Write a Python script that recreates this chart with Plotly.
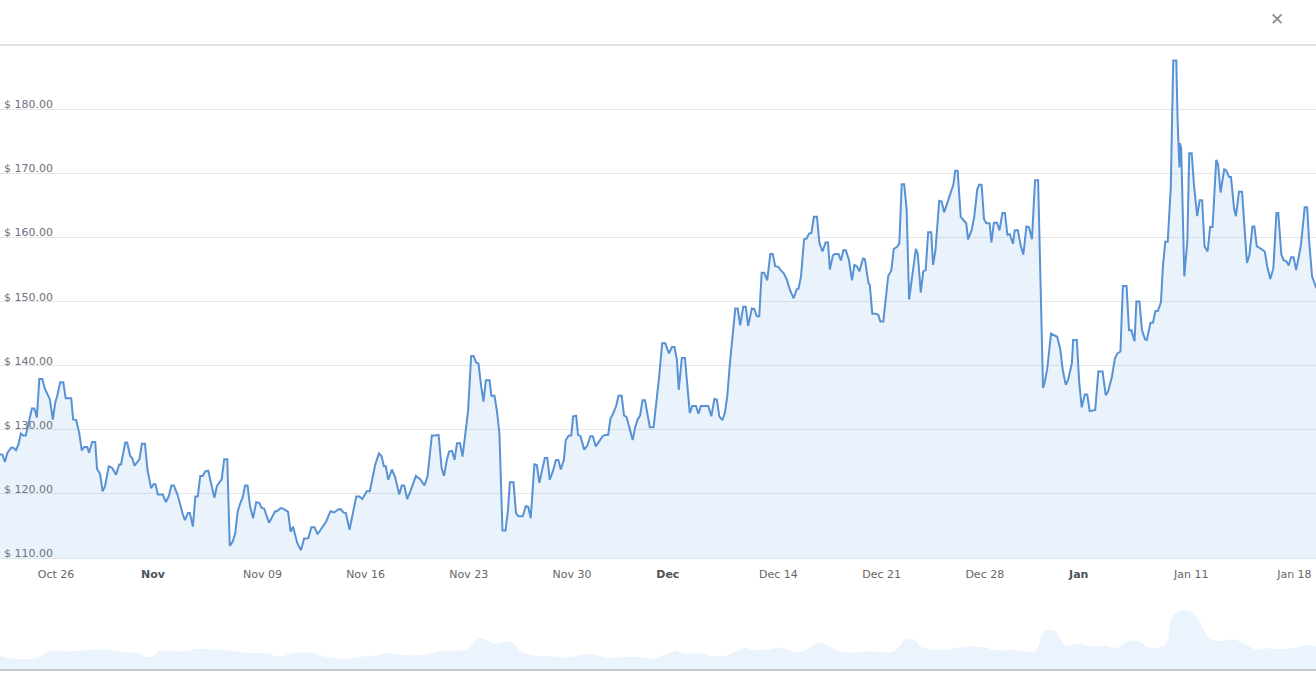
import pandas as pd
import plotly.graph_objects as go

# ---------------- data ----------------
start_time = pd.Timestamp("2020-10-22 04:48")
end_time = pd.Timestamp("2021-01-19 11:12")

# hours since start_time
price_hours = [
    0, 4, 8, 12, 18, 22, 26, 30, 34, 38,
    42, 48, 52, 56, 60, 64, 69, 73, 81, 86,
    90, 93, 98, 103, 107, 116, 119, 124, 129, 133,
    137, 142, 145, 150, 155, 158, 163, 167, 171, 177,
    182, 189, 194, 197, 204, 207, 212, 215, 219, 227,
    231, 236, 240, 246, 250, 253, 257, 265, 270, 275,
    279, 283, 289, 297, 301, 306, 309, 314, 318, 322,
    326, 330, 334, 339, 343, 349, 353, 361, 365, 370,
    374, 379, 383, 387, 391, 395, 399, 403, 407, 412,
    417, 422, 426, 430, 438, 448, 451, 457, 461, 466,
    469, 473, 477, 484, 490, 495, 502, 507, 512, 517,
    524, 531, 538, 544, 551, 555, 559, 563, 569, 573,
    580, 585, 590, 597, 602, 611, 617, 621, 625, 628,
    632, 638, 643, 650, 654, 658, 663, 670, 677, 684,
    691, 696, 703, 708, 714, 719, 723, 727, 731, 736,
    740, 744, 749, 753, 758, 762, 767, 771, 775, 779,
    783, 787, 791, 797, 800, 805, 809, 813, 818, 823,
    827, 830, 836, 840, 844, 851, 856, 860, 864, 870,
    874, 878, 882, 887, 891, 895, 900, 905, 909, 913,
    918, 921, 926, 930, 933, 938, 941, 945, 951, 956,
    961, 965, 970, 976, 981, 985, 990, 994, 998, 1003,
    1007, 1012, 1016, 1020, 1026, 1030, 1034, 1038, 1042, 1046,
    1050, 1054, 1058, 1064, 1068, 1073, 1078, 1083, 1089, 1094,
    1098, 1102, 1105, 1110, 1115, 1119, 1123, 1127, 1133, 1137,
    1141, 1153, 1158, 1163, 1167, 1171, 1176, 1180, 1184, 1188,
    1193, 1197, 1201, 1205, 1210, 1214, 1218, 1224, 1228, 1232,
    1236, 1240, 1244, 1249, 1254, 1258, 1262, 1267, 1271, 1276,
    1281, 1286, 1292, 1297, 1300, 1304, 1309, 1313, 1317, 1321,
    1325, 1330, 1334, 1339, 1344, 1348, 1351, 1356, 1359, 1365,
    1369, 1373, 1377, 1382, 1387, 1391, 1395, 1399, 1405, 1408,
    1414, 1416, 1420, 1426, 1430, 1433, 1438, 1442, 1446, 1451,
    1455, 1460, 1464, 1468, 1472, 1476, 1480, 1485, 1491, 1494,
    1499, 1503, 1507, 1511, 1516, 1519, 1523, 1529, 1533, 1537,
    1542, 1548, 1552, 1555, 1559, 1564, 1568, 1573, 1576, 1582,
    1586, 1591, 1594, 1598, 1602, 1606, 1611, 1614, 1618, 1623,
    1627, 1632, 1636, 1640, 1644, 1649, 1652, 1657, 1662, 1666,
    1671, 1675, 1680, 1685, 1690, 1693, 1698, 1701, 1705, 1711,
    1715, 1721, 1726, 1730, 1735, 1739, 1745, 1747, 1753, 1757,
    1761, 1766, 1770, 1774, 1783, 1788, 1795, 1800, 1804, 1810,
    1815, 1819, 1824, 1828, 1834, 1838, 1842, 1847, 1850, 1855,
    1859, 1864, 1867, 1873, 1877, 1881, 1885, 1890, 1893, 1897,
    1901, 1906, 1910, 1915, 1917, 1920, 1921, 1923, 1928, 1933,
    1936, 1940, 1944, 1949, 1953, 1957, 1961, 1966, 1970, 1974,
    1980, 1983, 1987, 1993, 1996, 2001, 2004, 2009, 2012, 2017,
    2022, 2026, 2030, 2034, 2039, 2042, 2046, 2050, 2056, 2059,
    2063, 2068, 2073, 2078, 2081, 2086, 2090, 2094, 2098, 2102,
    2106, 2110, 2114, 2118, 2124, 2128, 2131, 2136, 2143,
]

price_values = [
    126.2, 126.1, 125.0, 126.4, 127.2, 127.2, 126.8, 127.7, 129.4, 129.1,
    129.1, 131.6, 133.3, 133.3, 131.9, 137.9, 137.9, 136.4, 134.8, 131.6,
    134.3, 135.2, 137.4, 137.4, 134.9, 134.9, 131.6, 131.5, 129.5, 126.8,
    127.3, 127.3, 126.4, 128.1, 128.1, 123.9, 123.1, 120.4, 121.2, 124.3,
    124.1, 123.0, 124.6, 124.6, 128.0, 128.0, 125.9, 125.6, 124.4, 125.4,
    127.8, 127.8, 123.8, 120.9, 121.5, 121.5, 119.9, 119.9, 118.7, 119.7,
    121.3, 121.3, 119.9, 117.0, 115.9, 117.0, 117.0, 114.9, 119.6, 119.6,
    122.8, 122.8, 123.5, 123.6, 121.7, 119.4, 121.2, 122.3, 125.4, 125.4,
    111.9, 112.6, 113.9, 117.3, 118.5, 119.4, 121.3, 121.3, 118.1, 116.2,
    118.7, 118.6, 117.8, 117.7, 115.5, 117.3, 117.3, 117.8, 117.7, 117.3,
    117.2, 114.1, 114.9, 112.3, 111.2, 113.0, 113.1, 114.8, 114.8, 113.7,
    114.7, 115.7, 117.3, 117.1, 117.6, 117.6, 117.1, 117.0, 114.4, 116.5,
    119.6, 119.6, 119.2, 120.4, 120.4, 124.6, 126.3, 125.9, 124.3, 124.3,
    122.2, 123.8, 122.7, 119.9, 121.3, 121.3, 119.2, 120.9, 122.8, 122.3,
    121.3, 122.7, 129.1, 129.1, 129.2, 124.0, 122.8, 125.1, 126.6, 126.7,
    125.3, 127.9, 127.9, 125.8, 130.1, 132.9, 141.5, 141.5, 140.5, 140.3,
    137.0, 134.4, 137.7, 137.7, 135.3, 135.3, 132.9, 129.5, 114.3, 114.3,
    117.5, 121.8, 121.8, 117.0, 116.5, 116.5, 118.1, 118.0, 116.2, 124.6,
    124.5, 121.7, 123.5, 125.6, 125.6, 122.2, 123.5, 125.3, 125.3, 123.8,
    125.3, 128.4, 129.1, 129.1, 132.1, 132.2, 129.2, 129.0, 126.9, 127.5,
    129.0, 129.0, 127.4, 128.2, 129.0, 129.2, 129.2, 131.8, 132.5, 133.7,
    135.3, 135.3, 132.2, 132.0, 130.0, 128.4, 130.4, 131.6, 132.2, 134.6,
    134.6, 132.6, 130.4, 130.4, 133.7, 138.2, 143.5, 143.5, 141.9, 142.9,
    142.9, 140.9, 136.2, 141.2, 141.2, 137.3, 132.6, 133.7, 133.7, 132.5,
    133.7, 133.7, 132.1, 134.8, 134.7, 132.1, 131.5, 132.6, 135.2, 140.1,
    144.5, 148.9, 148.9, 146.3, 149.2, 149.2, 146.2, 148.9, 148.8, 147.7,
    147.7, 154.5, 154.5, 153.3, 157.4, 157.4, 155.5, 155.4, 154.9, 154.4,
    153.4, 151.8, 150.5, 151.9, 152.0, 153.9, 159.7, 159.8, 160.6, 160.7,
    163.2, 163.2, 159.1, 157.8, 159.2, 159.2, 155.0, 157.2, 157.4, 157.4,
    156.4, 158.0, 158.0, 156.5, 153.3, 155.7, 155.5, 154.7, 156.7, 156.6,
    152.8, 152.6, 148.1, 148.1, 147.9, 146.9, 146.9, 151.0, 154.0, 154.8,
    158.2, 158.5, 159.0, 168.3, 168.3, 164.3, 150.3, 153.9, 158.2, 157.5,
    151.4, 154.7, 154.9, 160.8, 160.8, 155.7, 158.1, 165.7, 165.6, 163.9,
    165.3, 166.9, 168.2, 170.4, 170.4, 163.2, 162.8, 162.2, 159.7, 161.2,
    163.2, 167.5, 168.2, 168.2, 162.8, 162.2, 162.2, 159.2, 162.3, 162.3,
    161.1, 163.8, 163.8, 160.4, 160.5, 159.0, 161.1, 161.1, 158.6, 157.3,
    161.7, 161.6, 159.7, 168.9, 168.9, 156.5, 136.5, 137.5, 139.6, 145.0,
    144.8, 144.5, 142.6, 139.4, 137.0, 137.8, 140.4, 144.0, 144.0, 137.3,
    133.5, 135.5, 135.5, 132.9, 133.1, 139.1, 139.1, 135.4, 136.0, 138.2,
    141.1, 141.9, 142.2, 152.4, 152.4, 145.5, 145.5, 143.8, 150.0, 150.0,
    145.6, 144.1, 144.0, 146.7, 146.7, 148.5, 148.5, 149.9, 155.2, 159.3,
    159.3, 167.9, 187.6, 187.6, 178.6, 170.9, 174.7, 173.8, 153.9, 159.4,
    173.1, 173.1, 167.9, 163.3, 165.8, 165.8, 158.6, 157.8, 161.6, 161.6,
    172.1, 171.4, 167.0, 170.6, 170.5, 169.4, 169.4, 164.5, 163.3, 167.1,
    167.1, 160.8, 156.0, 157.3, 161.7, 161.7, 158.6, 158.4, 157.9, 157.8,
    155.5, 153.5, 155.2, 163.8, 163.8, 157.3, 156.4, 156.3, 155.6, 156.9,
    156.9, 154.9, 156.8, 158.9, 164.7, 164.7, 159.7, 153.9, 152.1,
]

# navigator (overview) series
nav_hours = [
    0, 28, 62, 82, 113, 164, 182, 207, 226, 234,
    247, 260, 299, 316, 330, 371, 399, 440, 453, 480,
    508, 529, 570, 594, 619, 628, 653, 687, 715, 742,
    762, 773, 783, 797, 807, 817, 835, 845, 866, 893,
    920, 941, 962, 990, 1017, 1044, 1061, 1068, 1095, 1102,
    1113, 1137, 1157, 1181, 1199, 1212, 1226, 1247, 1264, 1274,
    1302, 1329, 1339, 1370, 1418, 1453, 1466, 1473, 1487, 1497,
    1511, 1549, 1569, 1604, 1617, 1652, 1672, 1686, 1700, 1717,
    1731, 1738, 1755, 1765, 1786, 1796, 1820, 1830, 1851, 1868,
    1885, 1899, 1909, 1927, 1940, 1951, 1961, 1971, 1988, 2006,
    2023, 2043, 2064, 2084, 2105, 2129, 2145,
]
nav_values = [
    13, 10, 11.3, 18.3, 17.7, 19.7, 19, 16.7, 15.7, 12.3,
    12.7, 18.3, 17.7, 19.7, 20, 18.7, 16.3, 15, 12.3, 16.3,
    16.3, 12.3, 10.3, 12.7, 14.3, 16, 14, 14, 17.7, 18.7,
    19.7, 28, 31, 27.3, 25.3, 26.7, 26.7, 19, 13.7, 12.7,
    11.7, 13.3, 15.3, 11, 12.3, 11.7, 10, 11.3, 17.3, 18.3,
    15, 15.7, 13, 13.3, 18, 21.3, 19, 19, 21.3, 21.3,
    16.7, 25.7, 25.7, 17, 17.7, 17.3, 24, 29.7, 29.7, 23,
    20, 20, 22.3, 21.7, 19, 19, 17.3, 18.3, 37.3, 38.3,
    25.7, 23.3, 25.7, 23.7, 22.3, 23.3, 21.3, 26.3, 28.3, 22.3,
    21.3, 25.7, 53, 59, 57.3, 49.7, 37.3, 29.7, 28, 29.7,
    26.3, 19.7, 20.7, 19.7, 20.7, 24, 22.3,
]

# axis ticks
x_tick_dates = [
    "2020-10-26", "2020-11-01 14:00", "2020-11-09", "2020-11-16", "2020-11-23",
    "2020-11-30", "2020-12-06 12:00", "2020-12-14", "2020-12-21", "2020-12-28",
    "2021-01-03 09:00", "2021-01-11", "2021-01-18",
]
x_tick_labels = [
    "Oct 26", "Nov", "Nov 09", "Nov 16", "Nov 23", "Nov 30", "Dec",
    "Dec 14", "Dec 21", "Dec 28", "Jan", "Jan 11", "Jan 18",
]
month_labels = ["Nov", "Dec", "Jan"]
y_tick_values = [110, 120, 130, 140, 150, 160, 170, 180]
y_range = [110, 190]

# ---------------- figure ----------------
price_times = start_time + pd.to_timedelta(price_hours, unit="h")
nav_times = start_time + pd.to_timedelta(nav_hours, unit="h")

FONT = "DejaVu Sans, Verdana, sans-serif"
LINE = "#5892d4"

fig = go.Figure()
fig.add_trace(go.Scatter(
    x=price_times, y=price_values, mode="lines",
    line=dict(color=LINE, width=2),
    fill="tozeroy", fillcolor="rgba(124,181,236,0.16)",
    xaxis="x", yaxis="y", hoverinfo="skip", showlegend=False,
))
fig.add_trace(go.Scatter(
    x=nav_times, y=nav_values, mode="lines",
    line=dict(color="rgba(124,181,236,0.0)", width=0, shape="spline"),
    fill="tozeroy", fillcolor="rgba(124,181,236,0.15)",
    xaxis="x2", yaxis="y2", hoverinfo="skip", showlegend=False,
))

ticktext = [
    f"<b><span style='color:#4d5358'>{t}</span></b>" if t in month_labels else t
    for t in x_tick_labels
]

W, H = 1316, 675
top, bottom = 45, 6
plot_h = H - top - bottom
main_bottom_px = 558
nav_top_px = 594

# y-axis labels drawn inside the plot, just above each gridline
y_label_annotations = [
    dict(text=f"$ {v:.2f}", xref="paper", yref="y", x=0, y=v,
         xanchor="left", yanchor="bottom", xshift=2, yshift=-4,
         showarrow=False,
         font=dict(family=FONT, size=11, color="#6b7480"))
    for v in y_tick_values
]

fig.update_layout(
    width=W, height=H,
    margin=dict(l=0, r=0, t=top, b=bottom),
    paper_bgcolor="white", plot_bgcolor="white",
    font=dict(family=FONT, size=11, color="#666666"),
    xaxis=dict(
        type="date", range=[start_time, end_time],
        tickvals=x_tick_dates, ticktext=ticktext,
        showgrid=False, zeroline=False,
        showline=True, linecolor="#dfe5ec", linewidth=1,
        ticks="", ticklabelstandoff=6,
        tickfont=dict(family=FONT, size=11, color="#666666"),
        anchor="y",
    ),
    yaxis=dict(
        domain=[(H - bottom - main_bottom_px) / plot_h, 1],
        range=y_range, tickvals=y_tick_values,
        showticklabels=False,
        showgrid=True, gridcolor="#e6e6e6", gridwidth=1,
        zeroline=False, showline=False, ticks="",
        anchor="x",
    ),
    xaxis2=dict(
        type="date", range=[start_time, end_time],
        showticklabels=False, showgrid=False, zeroline=False,
        showline=True, linecolor="#c4c9cf", linewidth=1.5, ticks="",
        anchor="y2",
    ),
    yaxis2=dict(
        domain=[0, (H - bottom - nav_top_px) / plot_h],
        range=[0, 75], visible=False, anchor="x2",
    ),
    shapes=[
        dict(type="line", xref="paper", yref="paper", x0=0, x1=1, y0=1, y1=1,
             line=dict(color="#e3e3e3", width=2)),
    ],
    annotations=y_label_annotations + [
        dict(text="✕", xref="paper", yref="paper",
             x=1277 / W, y=(H - bottom - 19) / plot_h,
             xanchor="center", yanchor="middle", showarrow=False,
             font=dict(family=FONT, size=17, color="#8c8c8c")),
    ],
)

fig.write_html("out.html")
